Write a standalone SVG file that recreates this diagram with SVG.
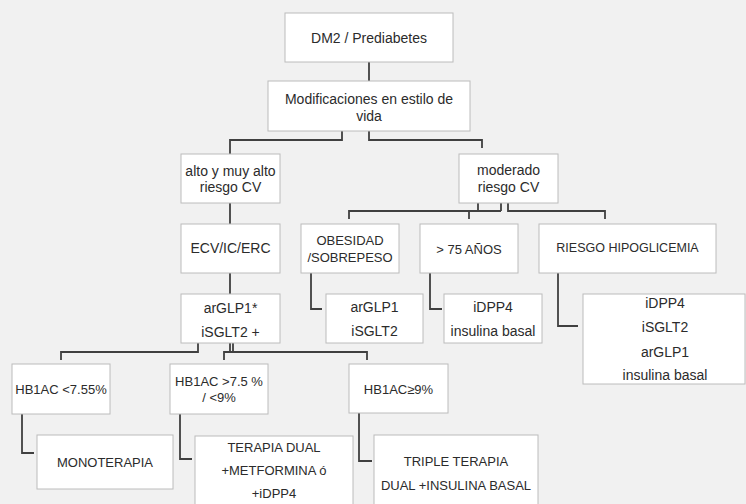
<svg xmlns="http://www.w3.org/2000/svg" width="746" height="504" viewBox="0 0 746 504">
<style>
.bg{fill:#f1f1f1}
.box{fill:#ffffff;stroke:#bcbcbc;stroke-width:1}
.t{font-family:"Liberation Sans",Arial,sans-serif;font-size:14px;fill:#2b2b2b;text-anchor:middle;dominant-baseline:central}
.c{font-size:13px}
.conn path{fill:none;stroke:#404040;stroke-width:1.8}
</style>
<rect class="bg" x="0" y="0" width="746" height="504"/>
<g class="conn" id="connectors">
<path d="M369,62 V81"/>
<path d="M342,131 V140 H230 V154"/>
<path d="M369,131 V140 H482 V148"/>
<path d="M230,203 V224"/>
<path d="M230,273 V294"/>
<path d="M198,343 V352 H61 V360"/>
<path d="M230,343 V352"/>
<path d="M233,343 V352"/>
<path d="M224,360 V352 H367 V360"/>
<path d="M22,414 V453 H34"/>
<path d="M180,414 V459 H192"/>
<path d="M359,413 V461 H372"/>
<path d="M478,203 V211"/>
<path d="M501,203 V211"/>
<path d="M349,219 V211 H501"/>
<path d="M469,211 V219"/>
<path d="M508,203 V211 H605 V219"/>
<path d="M311,273 V309 H322"/>
<path d="M430,273 V309 H442"/>
<path d="M558,273 V326 H578"/>
</g>
<g id="n_dm2"><rect class="box" x="285" y="13" width="168" height="49"/><text class="t" x="369" y="38">DM2 / Prediabetes</text></g>
<g id="n_mod"><rect class="box" x="268" y="81" width="202" height="50"/><text class="t" x="369" y="99">Modificaciones en estilo de</text><text class="t" x="369" y="116">vida</text></g>
<g id="n_alto"><rect class="box" x="181" y="154" width="99" height="49"/><text class="t" x="230.5" y="171">alto y muy alto</text><text class="t" x="230.5" y="187">riesgo CV</text></g>
<g id="n_moderado"><rect class="box" x="459" y="154" width="99" height="49"/><text class="t" x="508.5" y="170">moderado</text><text class="t" x="508.5" y="187">riesgo CV</text></g>
<g id="n_ecv"><rect class="box" x="181" y="224" width="99" height="49"/><text class="t" x="230.5" y="248">ECV/IC/ERC</text></g>
<g id="n_obesidad"><rect class="box" x="301" y="224" width="98" height="49"/><text class="t c" x="350" y="240">OBESIDAD</text><text class="t c" x="350" y="257">/SOBREPESO</text></g>
<g id="n_75"><rect class="box" x="420" y="224" width="98" height="49"/><text class="t c" x="469" y="249">&gt; 75 AÑOS</text></g>
<g id="n_riesgo"><rect class="box" x="539" y="224" width="177" height="49"/><text class="t" x="627.5" y="248" style="font-size:12.5px">RIESGO HIPOGLICEMIA</text></g>
<g id="n_arglp1"><rect class="box" x="181" y="294" width="99" height="49"/><text class="t" x="230.5" y="308">arGLP1*</text><text class="t" x="230.5" y="332">iSGLT2 +</text></g>
<g id="n_ob_tx"><rect class="box" x="326" y="294" width="97" height="49"/><text class="t" x="374.5" y="307">arGLP1</text><text class="t" x="374.5" y="331">iSGLT2</text></g>
<g id="n_75_tx"><rect class="box" x="444" y="294" width="98" height="49"/><text class="t" x="493" y="307">iDPP4</text><text class="t" x="493" y="331">insulina basal</text></g>
<g id="n_hipo_tx"><rect class="box" x="583" y="294" width="162" height="90"/><text class="t" x="665" y="303">iDPP4</text><text class="t" x="665" y="327">iSGLT2</text><text class="t" x="665" y="352">arGLP1</text><text class="t" x="665" y="375">insulina basal</text></g>
<g id="n_hb1"><rect class="box" x="12" y="364" width="98" height="50"/><text class="t c" x="61" y="389">HB1AC &lt;7.55%</text></g>
<g id="n_hb2"><rect class="box" x="170" y="364" width="98" height="50"/><text class="t c" x="219" y="381">HB1AC &gt;7.5 %</text><text class="t c" x="219" y="397">/ &lt;9%</text></g>
<g id="n_hb3"><rect class="box" x="349" y="364" width="99" height="49"/><text class="t c" x="398.5" y="389">HB1AC≥9%</text></g>
<g id="n_mono"><rect class="box" x="37" y="435" width="136" height="54"/><text class="t c" x="105" y="462">MONOTERAPIA</text></g>
<g id="n_dual"><rect class="box" x="195" y="436" width="158" height="72"/><text class="t c" x="274" y="447">TERAPIA DUAL</text><text class="t c" x="274" y="470">+METFORMINA ó</text><text class="t c" x="274" y="493">+iDPP4</text></g>
<g id="n_triple"><rect class="box" x="374" y="435" width="164" height="72"/><text class="t c" x="456" y="461">TRIPLE TERAPIA</text><text class="t c" x="456" y="485">DUAL +INSULINA BASAL</text></g>
</svg>
